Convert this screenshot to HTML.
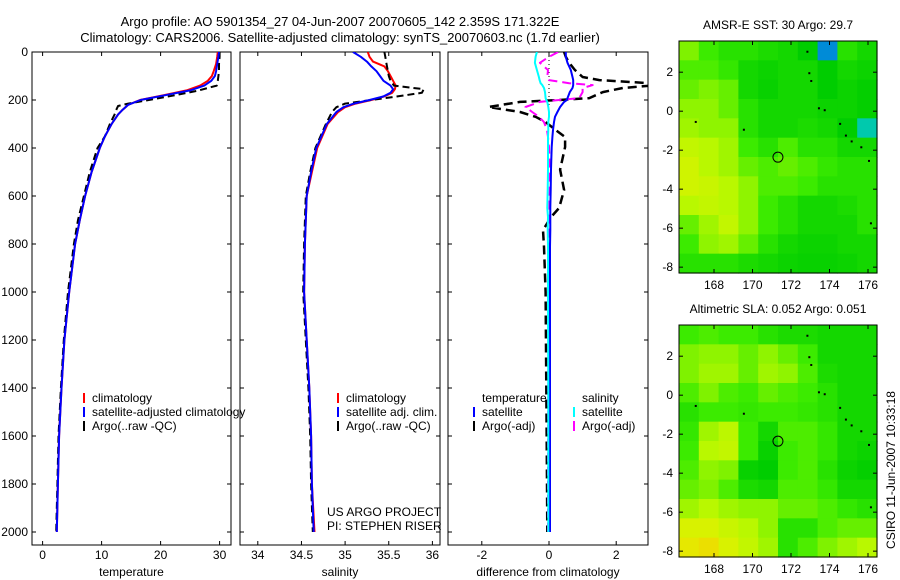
<!DOCTYPE html>
<html><head><meta charset="utf-8"><style>
html,body{margin:0;padding:0;background:#fff;}
svg{display:block;font-family:"Liberation Sans",sans-serif;}
text{font-size:12px;fill:#000;}
</style></head><body>
<svg id="fig" width="900" height="580" viewBox="0 0 900 580">
<text x="340" y="26" text-anchor="middle" style="font-size:13px">Argo profile: AO 5901354_27 04-Jun-2007 20070605_142 2.359S 171.322E</text>
<text x="340" y="42" text-anchor="middle" style="font-size:13px">Climatology: CARS2006. Satellite-adjusted climatology: synTS_20070603.nc (1.7d earlier)</text>
<text transform="translate(895,470) rotate(-90)" text-anchor="middle">CSIRO 11-Jun-2007 10:33:18</text>
</svg>
<script>
// ---- data ----
const depthT = [0,20,50,80,100,120,140,160,180,200,220,240,260,300,350,400,500,600,700,800,1000,1200,1400,1600,1800,2000];
const tempClim = [29.7,29.6,29.4,29.0,28.7,28.0,26.7,24.4,20.5,16.5,14.5,13.6,12.8,11.7,10.6,9.7,8.3,7.2,6.3,5.5,4.5,3.7,3.2,2.8,2.6,2.4];
const tempSat  = [29.9,29.8,29.6,29.4,29.2,28.6,27.4,25.0,20.8,16.6,14.5,13.6,12.8,11.7,10.6,9.7,8.3,7.2,6.3,5.5,4.5,3.7,3.2,2.8,2.6,2.4];
const depthA = [0,20,50,80,100,120,140,160,180,200,215,225,235,260,300,350,400,500,600,700,800,1000,1200,1400,1600,1800,2000];
const tempArgo = [30.0,30.0,29.9,29.9,29.8,29.7,29.5,26.5,22.5,18.0,14.5,12.8,12.6,12.2,11.4,10.6,9.3,8.0,7.0,6.0,5.3,4.3,3.6,3.1,2.7,2.5,2.3];
const depthS = [0,20,40,60,80,100,120,140,155,170,185,200,215,230,250,300,400,500,600,800,1000,1200,1400,1600,1800,2000];
const salClim = [35.26,35.28,35.32,35.45,35.49,35.52,35.55,35.58,35.57,35.54,35.45,35.3,35.12,35.0,34.92,34.8,34.68,34.62,34.56,34.54,34.53,34.56,34.59,34.61,34.62,34.65];
const salSat  = [35.09,35.18,35.25,35.30,35.36,35.40,35.44,35.52,35.55,35.52,35.44,35.28,35.1,34.98,34.9,34.79,34.67,34.61,34.56,34.54,34.53,34.56,34.59,34.61,34.62,34.64];
const salArgo = [35.45,35.46,35.47,35.48,35.49,35.5,35.52,35.56,35.9,35.88,35.6,35.3,35.0,34.9,34.85,34.78,34.66,34.6,34.55,34.53,34.52,34.55,34.58,34.6,34.61,34.63];
const depthD = [0,20,45,75,104,117,130,138,150,167,192,200,208,229,250,270,292,325,354,396,490,575,650,688,742,812,1000,1400,1800,2000];
const dTempSat  = [0.5,0.5,0.55,0.65,0.7,0.72,0.72,0.72,0.7,0.62,0.55,0.53,0.45,0.33,0.25,0.18,0.15,0.12,0.1,0.08,0.06,0.05,0.04,0.04,0.04,0.03,0.03,0.03,0.03,0.03];
const dTempArgo = [0.45,0.5,0.6,0.77,1.0,1.5,3.0,3.2,2.2,1.6,1.2,0.3,-0.86,-1.8,-0.86,-0.4,-0.1,0.2,0.48,0.48,0.33,0.45,0.3,0.06,-0.18,-0.15,-0.1,-0.08,-0.06,-0.05];
const dSalSat   = [-0.36,-0.4,-0.42,-0.36,-0.3,-0.28,-0.25,-0.2,-0.15,-0.12,-0.1,-0.08,-0.05,-0.02,0,0.0,-0.02,-0.02,-0.03,-0.03,-0.03,-0.04,-0.05,-0.03,-0.04,-0.03,-0.03,-0.02,-0.02,-0.02];
const dSalArgo  = [0.27,0.0,-0.27,-0.03,-0.05,0.0,0.6,1.3,1.0,1.0,0.9,0.3,-0.27,-0.7,-0.5,-0.3,-0.15,-0.06,-0.03,0.0,0.02,0.02,0.01,0.01,0.0,0.0,0.0,-0.02,-0.03,-0.03];
const depthTicks = [0,200,400,600,800,1000,1200,1400,1600,1800,2000];
const tempTicks = [0,10,20,30];
const salTicks = [34,34.5,35,35.5,36];
const salTickLabels = ["34","34.5","35","35.5","36"];
const diffTicks = [-2,0,2];
const lonTicks = [168,170,172,174,176];
const latTicks = [2,0,-2,-4,-6,-8];
const sstGrid = [
[.68,.6,.55,.55,.52,.5,.45,.15,.55,.5],
[.62,.62,.58,.5,.48,.5,.5,.45,.5,.48],
[.65,.68,.65,.5,.47,.5,.5,.45,.48,.46],
[.7,.7,.65,.55,.5,.5,.5,.48,.48,.46],
[.72,.7,.7,.55,.5,.5,.52,.5,.45,.3],
[.78,.75,.72,.6,.55,.62,.55,.55,.5,.5],
[.82,.75,.72,.65,.62,.65,.62,.58,.55,.55],
[.82,.8,.75,.7,.62,.62,.6,.55,.55,.55],
[.75,.78,.75,.7,.6,.55,.5,.5,.52,.55],
[.65,.72,.78,.7,.6,.55,.5,.5,.5,.55],
[.6,.7,.72,.65,.55,.5,.48,.48,.5,.5],
[.55,.55,.55,.52,.5,.48,.47,.47,.48,.5]];
const slaGrid = [
[.6,.62,.6,.6,.55,.52,.52,.5,.5,.5],
[.68,.7,.7,.65,.7,.65,.6,.5,.5,.5],
[.68,.72,.72,.65,.72,.7,.62,.52,.5,.5],
[.62,.68,.62,.6,.65,.62,.6,.55,.5,.5],
[.55,.6,.6,.58,.6,.6,.58,.55,.5,.5],
[.58,.72,.76,.6,.5,.62,.62,.58,.5,.5],
[.6,.75,.78,.6,.47,.6,.62,.58,.5,.48],
[.62,.7,.68,.47,.45,.6,.62,.55,.48,.46],
[.65,.68,.62,.52,.5,.62,.62,.58,.5,.5],
[.72,.75,.72,.7,.7,.65,.65,.62,.58,.55],
[.85,.85,.8,.75,.7,.55,.55,.62,.65,.65],
[.9,.92,.85,.78,.72,.55,.62,.68,.72,.75]];
const argoLon = 171.322, argoLat = -2.359;

// ---- drawing ----
const NS="http://www.w3.org/2000/svg";
const svg=document.getElementById('fig');
function mk(tag,attrs,parent){const e=document.createElementNS(NS,tag);for(const k in attrs)e.setAttribute(k,attrs[k]);(parent||svg).appendChild(e);return e;}
const yD = d => 52 + d*0.24;
const PT=52,PB=545;
const panels=[
 {x0:32,x1:231,f:v=>42.6+5.9*v,ticks:tempTicks,labels:tempTicks.map(String),xl:"temperature",name:"temperature-panel"},
 {x0:240,x1:440,f:v=>257.8+87.3*(v-34),ticks:salTicks,labels:salTickLabels,xl:"salinity",name:"salinity-panel"},
 {x0:448,x1:648,f:v=>549+33.6*v,ticks:diffTicks,labels:diffTicks.map(String),xl:"difference from climatology",name:"difference-panel"}];
panels.forEach((p,i)=>{
  const g=mk('g',{});
  
  
  const cp=mk('clipPath',{id:'cp'+i},g);mk('rect',{x:p.x0,y:PT,width:p.x1-p.x0,height:PB-PT},cp);
  const fr=mk('rect',{x:p.x0,y:PT,width:p.x1-p.x0,height:PB-PT,fill:'none',stroke:'#000','stroke-width':1},g);
  
  
  depthTicks.forEach(d=>{
    mk('line',{x1:p.x0,x2:p.x0+4,y1:yD(d),y2:yD(d),stroke:'#000'},g);
    mk('line',{x1:p.x1,x2:p.x1-4,y1:yD(d),y2:yD(d),stroke:'#000'},g);
    if(i===0){const t=mk('text',{x:28,y:yD(d)+4,'text-anchor':'end'},g);t.textContent=d;
      
      }
  });
  p.ticks.forEach((v,k)=>{
    const x=p.f(v);
    mk('line',{x1:x,x2:x,y1:PT,y2:PT+4,stroke:'#000'},g);
    mk('line',{x1:x,x2:x,y1:PB,y2:PB-4,stroke:'#000'},g);
    const t=mk('text',{x:x,y:559,'text-anchor':'middle'},g);t.textContent=p.labels[k];
    
    
  });
  const xl=mk('text',{x:(p.x0+p.x1)/2,y:576,'text-anchor':'middle'},g);xl.textContent=p.xl;
  
  
  p.g=g;
});
function line(pi,depths,vals,color,dash,w,name){
  const p=panels[pi];
  const pts=depths.map((d,k)=>p.f(vals[k]).toFixed(1)+','+yD(d).toFixed(1)).join(' ');
  const a={points:pts,fill:'none',stroke:color,'stroke-width':w,'clip-path':'url(#cp'+pi+')','stroke-linejoin':'round'};
  if(dash)a['stroke-dasharray']=dash;
  const e=mk('polyline',a,p.g);
  
  
}
line(0,depthT,tempClim,'#f00',null,2,'temp-climatology-line');
line(0,depthA,tempArgo,'#000','7,4',2,'temp-argo-line');
line(0,depthT,tempSat,'#00f',null,2,'temp-satellite-line');
line(1,depthS,salClim,'#f00',null,2,'sal-climatology-line');
line(1,depthS,salArgo,'#000','7,4',2,'sal-argo-line');
line(1,depthS,salSat,'#00f',null,2,'sal-satellite-line');
const zl=mk('line',{x1:549,x2:549,y1:PT,y2:124,stroke:'#000','stroke-dasharray':'1,3'},panels[2].g);


line(2,depthD,dTempArgo,'#000','9,5',2.5,'diff-temp-argo-line');
line(2,depthD,dSalArgo,'#f0f','9,5',2,'diff-sal-argo-line');
line(2,depthD,dTempSat,'#00f',null,2,'diff-temp-satellite-line');
line(2,depthD,dSalSat,'#0ff',null,2,'diff-sal-satellite-line');

function legend(x,y,color,label,name){
  const g=mk('g',{});
  
  
  if(color)mk('line',{x1:x,x2:x,y1:y-5,y2:y+5,stroke:color,'stroke-width':2},g);
  const t=mk('text',{x:x+8,y:y+4},g);t.textContent=label;
}
legend(84,398,'#f00','climatology','legend-temp-climatology');
legend(84,412,'#00f','satellite-adjusted climatology','legend-temp-satellite');
legend(84,426,'#000','Argo(..raw -QC)','legend-temp-argo');
legend(338,398,'#f00','climatology','legend-sal-climatology');
legend(338,412,'#00f','satellite adj. clim.','legend-sal-satellite');
legend(338,426,'#000','Argo(..raw -QC)','legend-sal-argo');
legend(474,398,null,'temperature','legend-temp-header');
legend(474,412,'#00f','satellite','legend-diff-temp-satellite');
legend(474,426,'#000','Argo(-adj)','legend-diff-temp-argo');
legend(574,398,null,'salinity','legend-sal-header');
legend(574,412,'#0ff','satellite','legend-diff-sal-satellite');
legend(574,426,'#f0f','Argo(-adj)','legend-diff-sal-argo');
let t1=mk('text',{x:327,y:516});t1.textContent='US ARGO PROJECT';


let t2=mk('text',{x:327,y:530});t2.textContent='PI: STEPHEN RISER';



// ---- maps ----
const stops=[[0,[0,48,192]],[0.25,[0,200,230]],[0.45,[0,205,0]],[0.6,[60,235,0]],[0.75,[185,248,0]],[0.88,[225,240,0]],[1,[255,190,0]]];
function cmap(v){for(let i=1;i<stops.length;i++){if(v<=stops[i][0]){const a=stops[i-1],b=stops[i],t=(v-a[0])/(b[0]-a[0]);return 'rgb('+a[1].map((c,k)=>Math.round(c+(b[1][k]-c)*t)).join(',')+')';}}return 'rgb(255,190,0)';}
const LON0=166.2,LON1=176.5,LAT0=3.6,LAT1=-8.3;
const coast=[[172.8,3.1],[172.9,2.0],[173.0,1.6],[173.4,0.2],[173.7,0.1],[174.5,-0.6],[174.8,-1.2],[175.1,-1.5],[175.6,-1.8],[176.0,-2.5],[176.1,-5.7],[169.5,-0.9],[167.0,-0.5]];
function map(top,bot,grid,title,name){
  const x0=679,x1=877;
  const fx=lon=>714+(lon-168)*19.25;
  const yTop=top,yBot=bot;
  const fy=lat=>(yTop)+(LAT0-lat)*((yBot-yTop)/(LAT0-LAT1));
  const g=mk('g',{});
  
  
  const rows=grid.length,cols=grid[0].length;
  const cw=(x1-x0)/cols,ch=(yBot-yTop)/rows;
  grid.forEach((r,ri)=>r.forEach((v,ci)=>{
    const c=mk('rect',{x:x0+ci*cw,y:yTop+ri*ch,width:cw+0.6,height:ch+0.6,fill:cmap(v)},g);
    
    
  }));
  coast.forEach(c=>{mk('rect',{x:fx(c[0]),y:fy(c[1]),width:2,height:2,fill:'#000'},g);});
  mk('rect',{x:x0,y:yTop,width:x1-x0,height:yBot-yTop,fill:'none',stroke:'#000'},g);
  lonTicks.forEach(l=>{const x=fx(l);
    mk('line',{x1:x,x2:x,y1:yTop,y2:yTop+4,stroke:'#000'},g);
    mk('line',{x1:x,x2:x,y1:yBot,y2:yBot-4,stroke:'#000'},g);
    const t=mk('text',{x:x,y:yBot+16,'text-anchor':'middle'},g);t.textContent=l;});
  latTicks.forEach(l=>{const y=fy(l);
    mk('line',{x1:x0,x2:x0+4,y1:y,y2:y,stroke:'#000'},g);
    mk('line',{x1:x1,x2:x1-4,y1:y,y2:y,stroke:'#000'},g);
    const t=mk('text',{x:x0-6,y:y+4,'text-anchor':'end'},g);t.textContent=l;});
  const c=mk('circle',{cx:fx(argoLon),cy:fy(argoLat),r:5,fill:'none',stroke:'#000'},g);
  
  
  const tt=mk('text',{x:(x0+x1)/2,y:yTop-12,'text-anchor':'middle'},g);tt.textContent=title;
  
  
}
map(41,273,sstGrid,'AMSR-E SST: 30 Argo: 29.7','sst-map');
map(325,557,slaGrid,'Altimetric SLA: 0.052 Argo: 0.051','sla-map');
</script>
</body></html>
